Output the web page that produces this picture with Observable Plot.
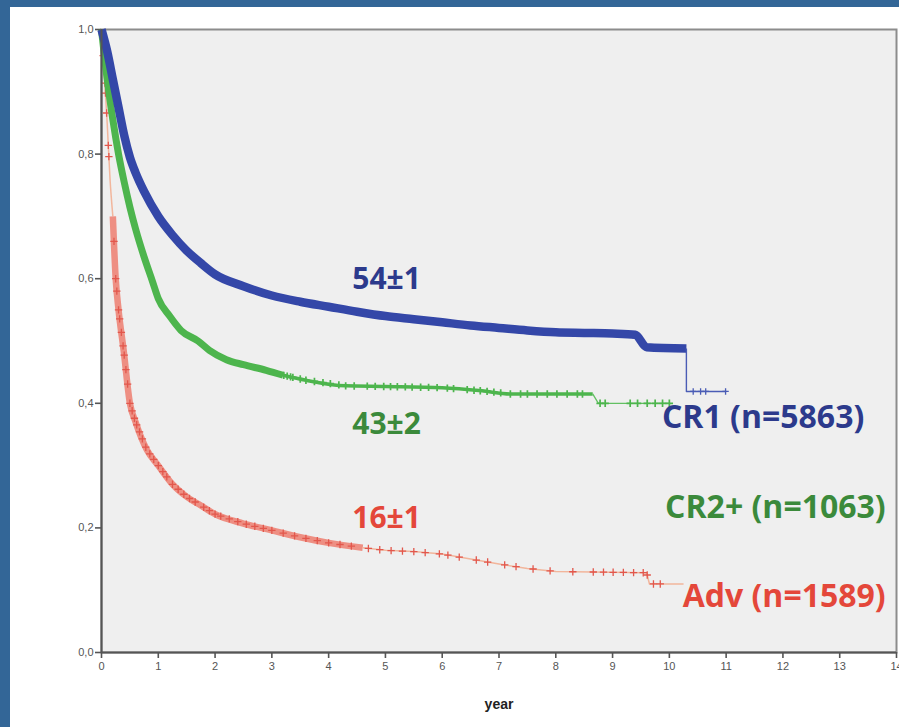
<!DOCTYPE html>
<html><head><meta charset="utf-8">
<script src="https://cdn.jsdelivr.net/npm/d3@7"></script>
<script src="https://cdn.jsdelivr.net/npm/@observablehq/plot@0.6"></script>
<style>
html,body{margin:0;padding:0;background:#fff;overflow:hidden;}
#wrap{position:relative;width:899px;height:727px;overflow:hidden;}
#wrap svg{position:absolute;left:0;top:0;}
.bar{position:absolute;background:#336697;z-index:2;}
</style></head><body>
<div id="wrap"><div class="bar" style="left:0;top:0;width:899px;height:7px"></div><div class="bar" style="left:0;top:0;width:10px;height:727px"></div></div>
<script>
// ---- data ----
const xTicks = [0,1,2,3,4,5,6,7,8,9,10,11,12,13,14];
const yTicks = [0,0.2,0.4,0.6,0.8,1.0];

// CR1 (blue)
const cr1Time = [0,0.1,0.2,0.3,0.4,0.5,0.6,0.75,1.0,1.25,1.5,1.75,2.0,2.5,3.0,3.5,4.0,4.5,5.0,5.5,6.0,6.5,7.0,7.5,8.0,8.5,9.0,9.4,9.6,10.3,10.3,11.0];
const cr1Surv = [1.0,0.965,0.92,0.875,0.83,0.795,0.77,0.74,0.70,0.67,0.645,0.625,0.607,0.588,0.573,0.563,0.555,0.547,0.540,0.535,0.530,0.525,0.521,0.517,0.514,0.513,0.512,0.510,0.490,0.488,0.419,0.419];
const cr1Censor = [10.42,10.55,10.64,10.99];

// CR2+ (green)
const cr2Time = [0,0.1,0.2,0.3,0.4,0.5,0.6,0.75,0.9,1.0,1.2,1.4,1.7,1.9,2.2,2.5,2.9,3.2,3.6,4.3,5.0,6.0,6.7,7.2,8.65,8.75,10.0];
const cr2Surv = [1.0,0.92,0.855,0.80,0.755,0.715,0.68,0.635,0.595,0.568,0.54,0.517,0.50,0.485,0.47,0.462,0.453,0.445,0.437,0.428,0.427,0.425,0.42,0.415,0.415,0.40,0.40];
const cr2Censor = [3.21,3.27,3.33,3.37,3.5,3.6,3.75,3.9,4.03,4.18,4.3,4.45,4.68,4.82,4.97,5.09,5.21,5.35,5.47,5.62,5.76,5.91,6.09,6.2,6.44,6.56,6.67,6.79,6.91,7.03,7.2,7.38,7.5,7.67,7.85,8.02,8.2,8.38,8.47,8.78,8.87,9.31,9.44,9.61,9.75,9.88,10.0];

// Adv (red)
const advTime = [0,0.05,0.1,0.15,0.2,0.25,0.3,0.39,0.5,0.6,0.8,1.0,1.25,1.5,1.75,2.0,2.5,3.0,3.5,4.0,4.6,5.0,5.5,6.0,6.5,7.0,7.5,8.0,9.6,9.65,10.25];
const advSurv = [1.0,0.93,0.85,0.76,0.70,0.60,0.55,0.485,0.40,0.37,0.325,0.30,0.27,0.25,0.236,0.222,0.207,0.196,0.185,0.176,0.168,0.164,0.162,0.158,0.15,0.142,0.135,0.13,0.128,0.11,0.11];
const advCensor = [0.03,0.06,0.07,0.09,0.12,0.13,0.22,0.25,0.27,0.3,0.32,0.35,0.38,0.4,0.43,0.46,0.5,0.54,0.58,0.62,0.67,0.72,0.78,0.85,0.92,1.0,1.08,1.15,1.25,1.35,1.45,1.55,1.65,1.8,1.9,2.0,2.1,2.25,2.4,2.55,2.7,2.85,3.0,3.2,3.4,3.6,3.8,4.0,4.2,4.4,4.7,4.9,5.1,5.3,5.5,5.7,5.95,6.1,6.3,6.6,6.8,7.1,7.3,7.6,7.9,8.3,8.66,8.84,9.01,9.19,9.37,9.54,9.61,9.72,9.84];

const statLabels = ["54±1","43±2","16±1"];
const groupLabels = ["CR1 (n=5863)","CR2+ (n=1063)","Adv (n=1589)"];

// ---- helpers ----
const pts = (ts, ss) => ts.map((t, i) => ({t, s: ss[i]}));
function at(ts, ss, t) {
  for (let i = 0; i < ts.length - 1; i++) {
    if (t >= ts[i] && t <= ts[i+1] && ts[i+1] > ts[i]) {
      const f = (t - ts[i]) / (ts[i+1] - ts[i]);
      return ss[i] + f * (ss[i+1] - ss[i]);
    }
  }
  return ss[ss.length - 1];
}
const cens = (c, ts, ss) => c.map(t => ({t, s: at(ts, ss, t)}));
const upto = (p, a, b) => p.filter(d => d.t >= a && d.t <= b);

const blue = pts(cr1Time, cr1Surv);
const green = pts(cr2Time, cr2Surv);
const red = pts(advTime, advSurv);
const iDrop = cr1Time.indexOf(10.3);
const blueThick = blue.slice(0, iDrop + 1);
const blueThin = blue.slice(iDrop);

const C = {blue:"#3447a8", blueThin:"#4a5cb5", blueText:"#2c3a8c",
           green:"#4db54d", greenThin:"#62c062", greenText:"#3b8a3b",
           red:"#ee8f83", redMark:"#e2574c", redThin:"#f2b69c", redText:"#e4473a"};

const lineOpt = (stroke, w, curve = "linear") => ({x:"t", y:"s", stroke, strokeWidth:w, strokeLinejoin:"round", strokeLinecap:"butt", curve});
const fmt = d => d.toFixed(1).replace(".", ",");
const LF = "'Open Sans', sans-serif";
const txt = (label, x, y, fill, size, anchor) =>
  Plot.text([label], {x, y, text: d => d, fill, fontSize: size, fontWeight: "bold", fontFamily: LF, textAnchor: anchor});

const chart = Plot.plot({
  width: 899, height: 727,
  marginLeft: 101, marginRight: 3, marginTop: 29, marginBottom: 75,
  style: {fontFamily: "'Liberation Sans', Arial, sans-serif", fontSize: "11px", background: "transparent", overflow: "visible"},
  x: {domain: [0, 14]},
  y: {domain: [0, 1]},
  marks: [
    Plot.frame({fill: "#efefef", stroke: "#8c8c8c", strokeWidth: 2}),
    Plot.axisX({ticks: xTicks, tickSize: 6, tickPadding: 4, label: null, color: "#555", fontSize: 11, strokeWidth: 1.6}),
    Plot.axisY({ticks: yTicks, tickFormat: fmt, tickSize: 6, tickPadding: 2, label: null, color: "#555", fontSize: 11, strokeWidth: 1.6}),
    // Adv
    Plot.line(upto(red, 0, 0.2), lineOpt(C.redThin, 1.5, "monotone-x")),
    Plot.line(upto(red, 0.2, 4.6), lineOpt(C.red, 6.5, "monotone-x")),
    Plot.line(upto(red, 4.6, 99), lineOpt(C.redThin, 1.5)),
    Plot.dot(cens(advCensor, advTime, advSurv), {x:"t", y:"s", symbol:"plus", r:2.5, stroke:C.redMark, strokeWidth:1.3}),
    // CR2+
    Plot.line(upto(green, 0, 3.2), lineOpt(C.green, 7, "monotone-x")),
    Plot.line(upto(green, 3.2, 8.65), lineOpt(C.green, 3.5, "monotone-x")),
    Plot.line(upto(green, 8.65, 99), lineOpt(C.greenThin, 1.3)),
    Plot.dot(cens(cr2Censor, cr2Time, cr2Surv), {x:"t", y:"s", symbol:"plus", r:2.5, stroke:C.green, strokeWidth:1.7}),
    // CR1
    Plot.line(blueThick, lineOpt(C.blue, 8.5, "monotone-x")),
    Plot.line(blueThin, lineOpt(C.blueThin, 1.4)),
    Plot.dot(cens(cr1Censor, cr1Time, cr1Surv), {x:"t", y:"s", symbol:"plus", r:2.2, stroke:C.blueThin, strokeWidth:1.3}),
    // axis lines
    Plot.ruleX([0], {stroke: "#555", strokeWidth: 2}),
    Plot.ruleY([0], {stroke: "#555", strokeWidth: 2}),
    // labels
    txt(statLabels[0], 5.02, 0.599, C.blueText, 30, "middle"),
    txt(statLabels[1], 5.02, 0.366, C.greenText, 30, "middle"),
    txt(statLabels[2], 5.02, 0.215, C.redText, 30, "middle"),
    txt(groupLabels[0], 9.87, 0.377, C.blueText, 32, "start"),
    txt(groupLabels[1], 13.81, 0.233, C.greenText, 32, "end"),
    txt(groupLabels[2], 13.81, 0.090, C.redText, 32, "end"),
    Plot.text(["year"], {frameAnchor: "bottom", dy: 56, text: d => d, fontWeight: "bold", fontSize: 14, fill: "#222"})
  ]
});
document.getElementById("wrap").prepend(chart);
</script>
</body></html>
